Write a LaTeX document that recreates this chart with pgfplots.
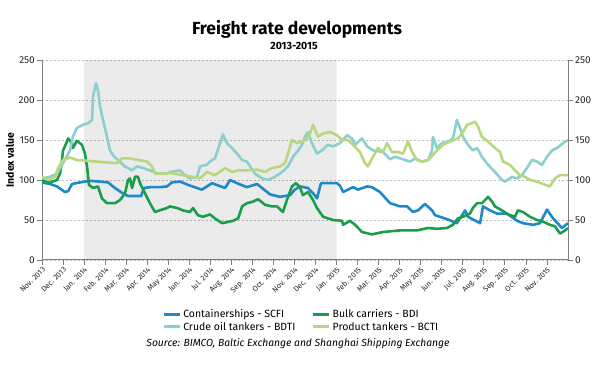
\documentclass[border=0pt]{standalone}
\usepackage{fontspec}
\setmainfont{Fira Sans}
\usepackage{pgfplots}
\pgfplotsset{compat=1.18}
\definecolor{cSCFI}{RGB}{30,136,200}
\definecolor{cBDI}{RGB}{26,158,76}
\definecolor{cBDTI}{RGB}{140,207,208}
\definecolor{cBCTI}{RGB}{185,216,126}
\definecolor{axgray}{RGB}{128,128,128}
\begin{document}
\begin{tikzpicture}
\pgfplotsset{
  common/.style={
    scale only axis, width=526pt, height=200pt,
    xmin=0, xmax=25, ymin=0, ymax=250,
    ytick={0,50,...,250},
    tick align=outside,
    major tick length=5pt,
    axis line style={axgray, line width=1pt},
    tick style={axgray, line width=0.8pt},
    /pgf/number format/assume math mode=true,
    yticklabel style={font=\fontsize{10}{11}\selectfont, text=black!85, inner sep=2pt},
  }
}
\begin{axis}[common,
  axis x line*=bottom, axis y line*=left,
  xtick={0,1,...,24},
  xticklabels={Nov. 2013,Dec. 2013,Jan. 2014,Feb. 2014,Mar. 2014,Apr. 2014,May 2014,Jun. 2014,Jul. 2014,Aug. 2014,Sep. 2014,Oct. 2014,Nov. 2014,Dec. 2014,Jan. 2015,Feb. 2015,Mar. 2015,Apr. 2015,May 2015,Jun. 2015,Jul. 2015,Aug. 2015,Sep. 2015,Oct. 2015,Nov. 2015},
  xticklabel style={font=\fontsize{7.5}{8}\selectfont, rotate=45, anchor=north east, inner sep=1pt, text=black!85},
  ymajorgrids,
  grid style={gray!50, dash pattern=on 2pt off 2pt, line width=0.5pt},
  ylabel={Index value},
  ylabel style={font=\bfseries\fontsize{10.5}{11}\selectfont, yshift=-1pt},
  legend columns=2,
  legend cell align=left,
  legend style={at={(0.222,-0.228)}, anchor=north west, draw=none, fill=none,
    font=\fontsize{10.5}{11}\selectfont, row sep=-1.5pt,
    /tikz/every even column/.append style={column sep=14pt}},
  legend image code/.code={\draw[line width=3.3pt] (0pt,0pt) -- (16pt,0pt);},
  every axis plot/.append style={line width=2.6pt, line join=round},
]
\addplot[fill=black, fill opacity=0.08, draw=none, forget plot] coordinates {(2,0) (2,250) (14,250) (14,0)} \closedcycle;

\addplot[cSCFI] coordinates {
(0,97) (0.38,95) (0.71,92) (1.09,85) (1.24,86) (1.43,95) (1.81,97) (2.28,99) (2.76,98) (3.14,97)
(3.47,90) (3.80,84) (4.09,80) (4.42,80) (4.71,80) (4.85,90) (5.13,91) (5.61,91) (5.94,92) (6.18,97)
(6.56,98) (7.03,93) (7.60,88) (8.08,96) (8.70,90) (8.94,100) (9.27,96) (9.74,91) (10.22,95) (10.84,82)
(11.31,79) (11.79,81) (12.02,88) (12.26,92) (12.64,90) (12.93,82) (13.07,77) (13.26,96) (14.02,96) (14.16,93)
(14.31,85) (14.78,91) (15.02,88) (15.45,92) (15.68,91) (16.06,85) (16.54,71) (17.02,67) (17.35,67) (17.63,60)
(17.87,62) (18.20,70) (18.54,62) (18.68,56) (19.25,51) (19.72,46) (20.11,62) (20.25,54) (20.82,46) (20.96,67)
(21.29,62) (21.63,58) (22.10,58) (22.58,49) (22.86,46) (23.34,44) (23.67,46) (24.00,63) (24.29,52) (24.71,40) (25.00,46)
};
\addlegendentry{Containerships - SCFI}

\addplot[cBDI] coordinates {
(0,100) (0.38,97) (0.71,100) (0.86,108) (0.95,125) (1.00,137) (1.09,142) (1.24,152) (1.43,146) (1.47,140)
(1.66,149) (1.90,144) (2.04,133) (2.14,117) (2.23,94) (2.42,90) (2.66,92) (2.85,77) (3.09,71) (3.47,71)
(3.71,75) (3.94,83) (4.09,100) (4.18,102) (4.28,90) (4.42,104) (4.56,104) (4.66,96) (4.90,83) (5.13,71)
(5.37,60) (5.70,63) (5.94,65) (6.08,67) (6.42,65) (6.70,62) (7.03,60) (7.18,65) (7.41,56) (7.65,54)
(7.98,57) (8.22,52) (8.56,46) (9.08,49) (9.32,52) (9.51,67) (9.74,71) (10.03,73) (10.27,76) (10.60,69)
(10.93,67) (11.17,67) (11.45,60) (11.64,75) (11.88,92) (12.07,96) (12.26,91) (12.40,81) (12.64,85) (12.88,75)
(13.07,65) (13.36,54) (13.83,50) (14.26,49) (14.31,44) (14.64,49) (14.88,44) (15.21,35) (15.68,32) (16.21,35)
(17.02,37) (17.82,37) (18.35,40) (18.77,39) (19.25,40) (19.53,44) (19.77,52) (20.01,54) (20.34,58) (20.48,65)
(20.68,71) (20.91,71) (21.06,75) (21.20,79) (21.39,73) (21.53,67) (21.86,62) (22.15,57) (22.48,54) (22.62,62)
(22.86,60) (23.19,54) (23.53,50) (23.81,48) (24.14,44) (24.38,42) (24.62,33) (24.86,37) (25.00,40)
};
\addlegendentry{Bulk carriers - BDI}

\addplot[cBDTI] coordinates {
(0,102) (0.38,104) (0.71,108) (1.00,121) (1.33,137) (1.47,154) (1.66,165) (1.95,169) (2.19,171) (2.38,175)
(2.42,204) (2.57,221) (2.66,212) (2.76,192) (2.90,175) (3.09,154) (3.23,137) (3.37,131) (3.61,125) (3.94,117)
(4.28,112) (4.52,117) (4.80,115) (5.13,112) (5.51,108) (5.94,108) (6.08,110) (6.56,112) (6.80,106) (7.03,102)
(7.37,104) (7.51,117) (7.84,119) (7.98,123) (8.22,127) (8.46,146) (8.60,157) (8.79,146) (9.03,140) (9.27,133)
(9.51,125) (9.74,123) (9.89,117) (10.12,108) (10.46,102) (10.74,100) (11.07,104) (11.41,110) (11.69,117) (11.93,129)
(12.17,137) (12.36,144) (12.50,154) (12.64,160) (12.83,146) (13.07,133) (13.31,137) (13.59,144) (13.83,142) (14.16,146)
(14.50,156) (14.73,152) (14.88,144) (15.21,152) (15.45,142) (15.73,137) (16.21,135) (16.54,126) (16.78,129) (17.02,127)
(17.49,123) (17.73,127) (18.06,123) (18.35,125) (18.54,137) (18.58,154) (18.77,140) (19.01,146) (19.30,148) (19.53,152)
(19.72,175) (19.87,165) (20.01,154) (20.25,144) (20.48,137) (20.68,140) (20.91,129) (21.20,119) (21.53,110) (21.86,100)
(22.01,98) (22.34,104) (22.58,102) (22.81,106) (23.05,115) (23.29,125) (23.53,123) (23.76,119) (24.00,129) (24.24,137)
(24.48,140) (24.76,146) (25.00,150)
};
\addlegendentry{Crude oil tankers - BDTI}

\addplot[cBCTI] coordinates {
(0,104) (0.29,100) (0.62,104) (0.76,115) (1.00,125) (1.33,128) (1.66,125) (2.14,124) (2.61,123) (3.09,122)
(3.56,121) (3.80,127) (4.18,127) (4.56,125) (4.99,123) (5.23,117) (5.37,108) (5.85,108) (6.08,109) (6.70,106)
(7.18,104) (7.51,102) (7.84,110) (8.22,106) (8.70,115) (9.03,110) (9.32,112) (9.79,112) (10.22,113) (10.60,110)
(10.93,115) (11.31,117) (11.55,121) (11.69,133) (11.88,150) (12.12,146) (12.36,148) (12.60,152) (12.74,158) (12.88,169)
(13.12,154) (13.36,158) (13.69,160) (14.02,156) (14.26,150) (14.54,150) (14.78,144) (15.11,135) (15.35,121) (15.49,117)
(15.73,129) (15.97,140) (16.21,135) (16.40,146) (16.63,135) (16.92,135) (17.16,133) (17.40,148) (17.59,135) (17.82,125)
(18.06,123) (18.35,125) (18.44,127) (18.77,137) (19.06,144) (19.39,148) (19.77,152) (20.01,160) (20.20,169) (20.44,171)
(20.58,173) (20.72,167) (20.91,154) (21.20,148) (21.53,140) (21.77,135) (21.91,123) (22.24,119) (22.48,112) (22.72,106)
(22.96,104) (23.19,100) (23.53,98) (23.81,95) (24.14,92) (24.38,102) (24.62,106) (25.00,106)
};
\addlegendentry{Product tankers - BCTI}
\end{axis}
\begin{axis}[common,
  axis y line*=right, axis x line=none, xtick=\empty,
]
\addplot[draw=none, forget plot] coordinates {(0,0) (25,250)};
\end{axis}
\node[font=\bfseries\fontsize{17.5}{19}\selectfont] at (255pt,231pt) {Freight rate developments};
\node[font=\bfseries\fontsize{10.5}{11}\selectfont] at (252pt,214.5pt) {2013-2015};
\node[font=\itshape\fontsize{10.3}{11}\selectfont] at (256pt,-84pt) {Source: BIMCO, Baltic Exchange and Shanghai Shipping Exchange};
\pgfresetboundingbox
\path (-42pt,-114pt) rectangle (557pt,260pt);
\end{tikzpicture}
\end{document}
